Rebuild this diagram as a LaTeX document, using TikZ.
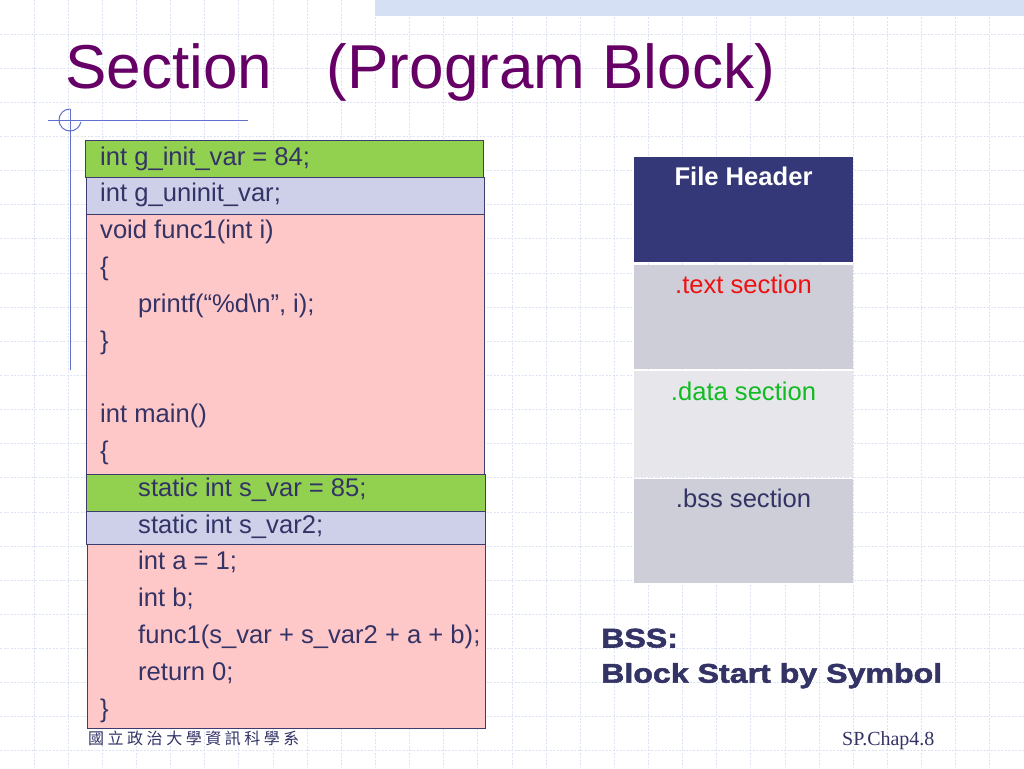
\documentclass[tikz,border=0pt]{standalone}
\usepackage{fontspec}
\setmainfont{Liberation Sans}
\newfontfamily\serifft{Liberation Serif}
\newfontfamily\cjk[LetterSpace=22]{Noto Sans CJK TC}
\newfontfamily\blackfont[FakeStretch=1.19,FakeBold=2]{Liberation Sans}
\definecolor{titlepurple}{HTML}{660066}
\definecolor{codeblue}{HTML}{333366}
\definecolor{initgreen}{HTML}{92D050}
\definecolor{uninitblue}{HTML}{CDD0E8}
\definecolor{codepink}{HTML}{FFC8C8}
\definecolor{boxline}{HTML}{3C3C6E}
\definecolor{headnavy}{HTML}{343878}
\definecolor{secgrey}{HTML}{CDCED8}
\definecolor{datagrey}{HTML}{E6E6EB}
\definecolor{decoblue}{HTML}{6070CC}
\definecolor{gridblue}{HTML}{DDE3F4}
\definecolor{barblue}{HTML}{D6E0F4}
\definecolor{textred}{HTML}{EE1111}
\definecolor{textgreen}{HTML}{11BB22}
\tikzset{
  gridline/.style={draw=gridblue, line width=0.9pt, dash pattern=on 2pt off 1.5pt},
  decoline/.style={draw=decoblue, line width=1pt},
  codebox/.style={draw=boxline, line width=1pt, anchor=north west, inner sep=0pt, outer sep=0pt},
  codeline/.style={anchor=base west, inner sep=0pt, text=codeblue, font=\fontsize{25.6}{30}\selectfont},
  secbox/.style={anchor=north west, inner sep=0pt, outer sep=0pt, minimum width=219pt},
  seclabel/.style={anchor=base, inner sep=0pt, font=\fontsize{25.6}{30}\selectfont},
}
\begin{document}
\begin{tikzpicture}[x=1pt,y=-1pt]
\useasboundingbox (0,0) rectangle (1024,768);
\fill[white] (0,0) rectangle (1024,768);
% grid
\foreach \k in {1,...,29} \draw[gridline] ({\k*34.13},0) -- ({\k*34.13},768);
\foreach \k in {1,...,22} \draw[gridline] (0,{\k*34.13}) -- (1024,{\k*34.13});
% top bar
\fill[barblue] (375,0) rectangle (1024,16);
% decoration
\coordinate (hl) at (48,120);
\coordinate (hr) at (248,120);
\coordinate (vt) at (70,109);
\coordinate (vb) at (70,370);
\draw[decoline] (hl) -- (hr);
\draw[decoline] (vt) -- (vb);
\draw[decoline] (vt) arc[start angle=-90, end angle=-350, radius=11];
% title
\node[anchor=base west, inner sep=0pt, text=titlepurple, font=\fontsize{62}{70}\selectfont] (title) at (65,88) {Section\hspace{55pt}(Program Block)};
% code boxes
\node[codebox, fill=codepink, minimum width=398pt, minimum height=260pt] (p1) at (86,214) {};
\node[codebox, fill=initgreen, minimum width=398pt, minimum height=37pt] (g1) at (85,140) {};
\node[codebox, fill=uninitblue, minimum width=398pt, minimum height=37pt] (b1) at (86,177) {};
\node[codebox, fill=codepink, minimum width=398pt, minimum height=184pt] (p2) at (87,544) {};
\node[codebox, fill=initgreen, minimum width=399pt, minimum height=37pt] (g2) at (86,474) {};
\node[codebox, fill=uninitblue, minimum width=399pt, minimum height=33pt] (b2) at (86,511) {};
% code lines
\node[codeline] (l0) at (100,165) {int g\_init\_var = 84;};
\node[codeline] (l1) at (100,201.8) {int g\_uninit\_var;};
\node[codeline] (l2) at (100,238.6) {void func1(int i)};
\node[codeline] (l3) at (100,275.4) {\{};
\node[codeline] (l4) at (138,312.2) {printf(“\%d\textbackslash n”, i);};
\node[codeline] (l5) at (100,349) {\}};
\node[codeline] (l7) at (100,422.6) {int main()};
\node[codeline] (l8) at (100,459.4) {\{};
\node[codeline] (l9) at (138,496.2) {static int s\_var = 85;};
\node[codeline] (l10) at (138,533) {static int s\_var2;};
\node[codeline] (l11) at (138,569.8) {int a = 1;};
\node[codeline] (l12) at (138,606.6) {int b;};
\node[codeline] (l13) at (138,643.4) {func1(s\_var + s\_var2 + a + b);};
\node[codeline] (l14) at (138,680.2) {return 0;};
\node[codeline] (l15) at (100,717) {\}};
% section table
\node[secbox, fill=headnavy, minimum height=105pt] (fh) at (634,157) {};
\node[secbox, fill=secgrey, minimum height=104pt] (ts) at (634,265) {};
\node[secbox, fill=datagrey, minimum height=106pt] (ds) at (634,371) {};
\node[secbox, fill=secgrey, minimum height=104pt] (bs) at (634,479) {};
\node[seclabel, text=white, font=\fontsize{25.6}{30}\selectfont\bfseries] (fhl) at (743.5,185) {File Header};
\node[seclabel, text=textred] (tsl) at (743.5,293) {.text section};
\node[seclabel, text=textgreen] (dsl) at (743.5,400) {.data section};
\node[seclabel, text=codeblue] (bsl) at (743.5,507) {.bss section};
% BSS note
\node[anchor=base west, inner sep=0pt, text=codeblue, font=\blackfont\bfseries\fontsize{27}{32}\selectfont] (bss1) at (601,647.5) {BSS:};
\node[anchor=base west, inner sep=0pt, text=codeblue, font=\blackfont\bfseries\fontsize{27}{32}\selectfont] (bss2) at (601,682.7) {Block Start by Symbol};
% footer
\node[anchor=base west, inner sep=0pt, text=codeblue, font=\cjk\fontsize{16}{18}\selectfont] (foot) at (88,744) {國立政治大學資訊科學系};
\node[anchor=base west, inner sep=0pt, text=codeblue, font=\serifft\fontsize{20}{24}\selectfont] (page) at (842,745) {SP.Chap4.8};
\end{tikzpicture}
\end{document}
